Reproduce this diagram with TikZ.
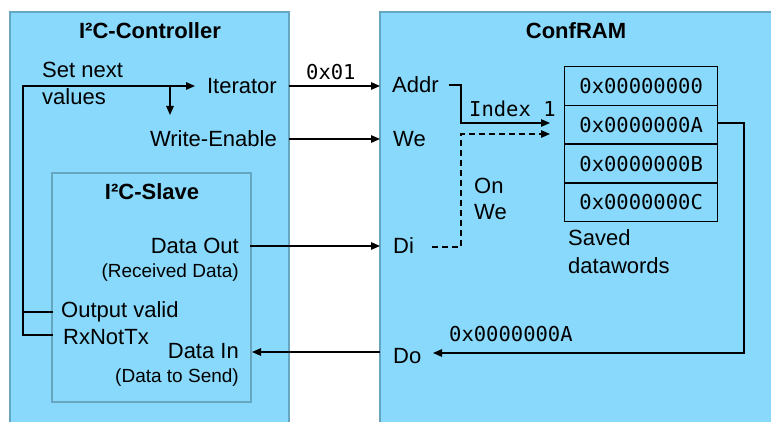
\documentclass[tikz,border=0pt]{standalone}
\usepackage{fontspec}
\setmainfont{Liberation Sans}
\newfontfamily\monofont{DejaVu Sans Mono}
\usetikzlibrary{arrows.meta}
\definecolor{panel}{RGB}{136,217,252}
\definecolor{panelline}{RGB}{102,166,192}
\begin{document}
\begin{tikzpicture}[x=1pt,y=-1pt,
  lbl/.style={inner sep=0pt, font=\fontsize{22}{26}\selectfont},
  small/.style={inner sep=0pt, font=\fontsize{19}{22}\selectfont},
  ttl/.style={inner sep=0pt, font=\fontsize{22}{26}\selectfont\bfseries},
  mono/.style={inner sep=0pt, font=\fontsize{20.5}{24}\monofont},
  wire/.style={line width=1.3pt, draw=black},
  sig/.style={wire, -{Triangle[length=9pt,width=7.5pt]}},
  dashsig/.style={sig, dash pattern=on 6pt off 4pt},
  panelbox/.style={fill=panel, draw=panelline, line width=1.4pt},
  cell/.style={draw=black, line width=1.3pt, inner sep=0pt, anchor=north west,
    minimum width=153pt, minimum height=38.75pt, text height=15pt, text depth=0pt,
    font=\fontsize{20.5}{24}\monofont}]
\useasboundingbox (0,0) rectangle (771,422);
\clip (0,0) rectangle (771,422);
\fill[white] (0,0) rectangle (771,422);

% containers
\draw[panelbox] (10,12) rectangle (289,440);
\draw[panelbox] (380,12) rectangle (790,440);
\draw[panelbox] (52,173) rectangle (251,402);

% I2C controller labels
\node[ttl, anchor=base] (ctrlT) at (150,39) {I²C-Controller};
\node[lbl, anchor=base west] (setA) at (42,78) {Set next};
\node[lbl, anchor=base west] (setB) at (42,105) {values};
\node[lbl, anchor=base east] (iter) at (277,94) {Iterator};
\node[lbl, anchor=base east] (wen) at (277,147) {Write-Enable};

% I2C slave labels
\node[ttl, anchor=base] (slaveT) at (152,200) {I²C-Slave};
\node[lbl, anchor=base east] (dout) at (239,254) {Data Out};
\node[small, anchor=base east] (doutN) at (239,277) {(Received Data)};
\node[lbl, anchor=base west] (oval) at (61,317) {Output valid};
\node[lbl, anchor=base west] (rxtx) at (63,344) {RxNotTx};
\node[lbl, anchor=base east] (din) at (239,358) {Data In};
\node[small, anchor=base east] (dinN) at (239,382) {(Data to Send)};

% ConfRAM labels
\node[ttl, anchor=base] (ramT) at (576,39) {ConfRAM};
\node[lbl, anchor=base west] (addr) at (392,93) {Addr};
\node[lbl, anchor=base west] (we) at (393,147) {We};
\node[lbl, anchor=base west] (di) at (393,254) {Di};
\node[lbl, anchor=base west] (do) at (393,363) {Do};
\node[lbl, anchor=base west] (onA) at (474,194) {On};
\node[lbl, anchor=base west] (onB) at (474,220) {We};
\node[lbl, anchor=base west] (savA) at (568,246) {Saved};
\node[lbl, anchor=base west] (savB) at (568,273) {datawords};

% bus values
\node[mono, anchor=base west] (addrVal) at (306,80) {0x01};
\node[mono, anchor=base west] (idx) at (469,117) {Index 1};
\node[mono, anchor=base west] (outVal) at (449,341) {0x0000000A};

% memory table
\node[cell] (r0) at (564,66) {0x00000000};
\node[cell] (r1) at (564,104.75) {0x0000000A};
\node[cell] (r2) at (564,143.5) {0x0000000B};
\node[cell] (r3) at (564,182.25) {0x0000000C};

% connector end points
\coordinate (rxOut) at (53,335);
\coordinate (ovOut) at (53,312);
\coordinate (loopUp) at (23,86);
\coordinate (iterIn) at (195,86);
\coordinate (brTop) at (170,86);
\coordinate (brEnd) at (170,115);
\coordinate (iterOut) at (289,86);
\coordinate (addrIn) at (380,86);
\coordinate (wenOut) at (289,139);
\coordinate (weIn) at (380,139);
\coordinate (doutOut) at (250,246);
\coordinate (diIn) at (380,246);
\coordinate (doOut) at (380,352);
\coordinate (dinIn) at (252,352);
\coordinate (addrOut) at (449,85);
\coordinate (addrBend) at (461,123);
\coordinate (idxTip) at (550,123);
\coordinate (diOut) at (432,247);
\coordinate (diBend) at (461,134);
\coordinate (wrTip) at (550,134);
\coordinate (rdOut) at (717,123);
\coordinate (rdBend) at (744,353);
\coordinate (doTip) at (433,353);

% controller feedback loop
\draw[sig] (rxOut) -| (loopUp) -- (iterIn);
\draw[wire] (ovOut) -- (ovOut -| loopUp);
\draw[sig] (brTop) -- (brEnd);

% controller / slave to ConfRAM
\draw[sig] (iterOut) -- (addrIn);
\draw[sig] (wenOut) -- (weIn);
\draw[sig] (doutOut) -- (diIn);
\draw[sig] (doOut) -- (dinIn);

% inside ConfRAM
\draw[sig] (addrOut) -| (addrBend) -- (idxTip);
\draw[dashsig] (diOut) -| (diBend) -- (wrTip);
\draw[sig] (rdOut) -| (rdBend) -- (doTip);
\end{tikzpicture}
\end{document}
